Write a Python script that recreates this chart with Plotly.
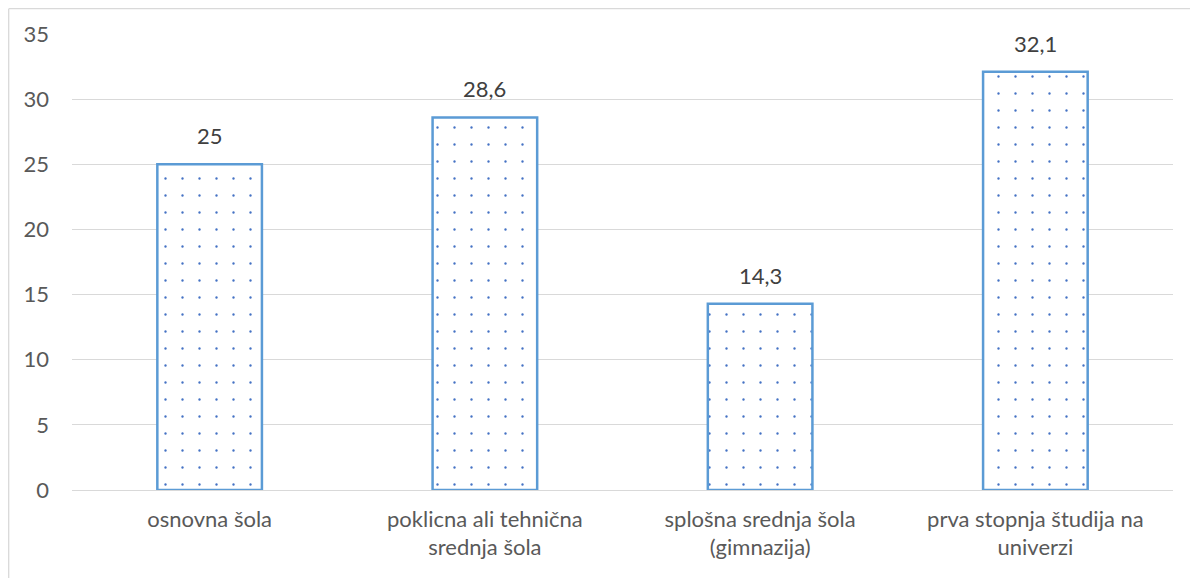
import plotly.graph_objects as go

categories = ["osnovna šola", "poklicna ali tehnična<br>srednja šola",
              "splošna srednja šola<br>(gimnazija)", "prva stopnja študija na<br>univerzi"]
values = [25, 28.6, 14.3, 32.1]
labels = [f"{v:g}".replace(".", ",") for v in values]
y_ticks = [0, 5, 10, 15, 20, 25, 30, 35]

FONT = "Lato"
GRAY = "#595959"
FS = 22

fig = go.Figure()
fig.add_trace(go.Bar(
    x=categories, y=values, width=0.38,
    marker=dict(
        color="white",
        line=dict(color="#5b9bd5", width=2.5),
        pattern=dict(shape=".", fgcolor="#4472c4", bgcolor="white", size=17, solidity=0.015, fillmode="replace"),
    ),
    hoverinfo="skip",
))
for c, v, t in zip(categories, values, labels):
    fig.add_annotation(x=c, y=v, text=t, showarrow=False, yanchor="bottom", yshift=13,
                       font=dict(family=FONT, size=FS, color="#404040"))

W, H = 1190, 570
L, R, T, B = 64, 25, 26, 88
pw, ph = W - L - R, H - T - B
fig.add_shape(type="line", xref="paper", yref="paper",
              x0=(0.7 - L) / pw, x1=(0.7 - L) / pw, y0=-(B + 5) / ph, y1=(ph + T - 0.7) / ph,
              line=dict(color="#d9d9d9", width=1.3))
fig.add_shape(type="line", xref="paper", yref="paper",
              x0=(0.7 - L) / pw, x1=(W + 5 - L) / pw, y0=(ph + T - 0.7) / ph, y1=(ph + T - 0.7) / ph,
              line=dict(color="#d9d9d9", width=1.3))

fig.update_layout(
    width=W, height=H,
    margin=dict(l=L, r=R, t=T, b=B, pad=0),
    paper_bgcolor="white", plot_bgcolor="white",
    showlegend=False,
    font=dict(family=FONT, size=FS, color=GRAY),
    xaxis=dict(showgrid=False, showline=True, linecolor="#d9d9d9", linewidth=1.3,
               tickfont=dict(family=FONT, size=FS, color=GRAY), ticks="", ticklabelstandoff=9),
    yaxis=dict(range=[0, 35], tickvals=y_ticks, showgrid=True, gridcolor="#d9d9d9", gridwidth=1.3,
               zeroline=False, showline=False, ticks="", ticklabelstandoff=22,
               tickfont=dict(family=FONT, size=FS, color=GRAY)),
)

fig.write_html("out.html")
